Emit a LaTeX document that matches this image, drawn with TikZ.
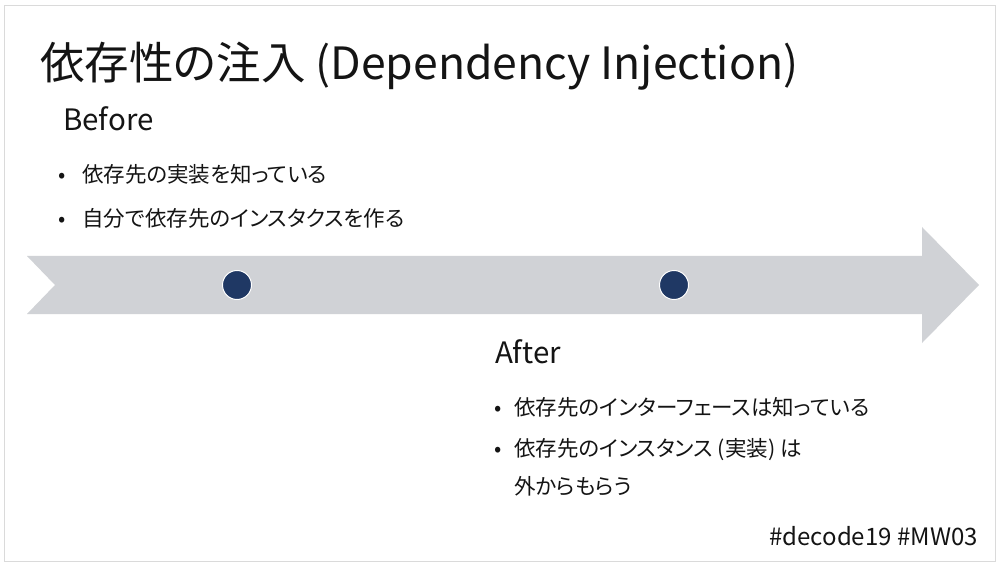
\documentclass[tikz,border=0pt]{standalone}
\usepackage{fontspec}
\setmainfont[RawFeature=+palt]{Noto Sans CJK JP}
\usetikzlibrary{positioning}
\definecolor{arrowgray}{HTML}{D0D2D6}
\definecolor{dotblue}{HTML}{1F3864}
\definecolor{framegray}{HTML}{DADADA}
\definecolor{inkgray}{HTML}{141414}

\begin{document}
\begin{tikzpicture}[
  x=1pt, y=-1pt,
  every node/.style={text=inkgray, inner sep=0pt},
  titletext/.style={anchor=base west, font=\fontsize{44.5}{52}\selectfont},
  heading/.style={anchor=base west, font=\fontsize{29.5}{36}\selectfont},
  item/.style={anchor=base west, font=\fontsize{21.5}{38}\selectfont, align=left},
  bulletmark/.style={anchor=base, font=\fontsize{21.5}{26}\selectfont},
  milestone/.style={circle, fill=dotblue, draw=white, line width=1pt, minimum size=29pt},
  tag/.style={anchor=base east, font=\fontsize{24}{28}\selectfont},
]
\useasboundingbox (0,0) rectangle (999,564);
\fill[white] (0,0) rectangle (999,564);
\draw[framegray, line width=1pt] (4.5,6) rectangle (995,561);

% timeline arrow
\fill[arrowgray] (27,256) -- (922,256) -- (922,227) -- (979,285)
  -- (922,343) -- (922,314) -- (27,314) -- (55,285) -- cycle;
\node[milestone] (before dot) at (237,285) {};
\node[milestone] (after dot) at (674,285) {};

\node[titletext] (title) at (40,80) {依存性の注入 (Dependency Injection)};

\node[heading] (before) at (63,131) {Before};
\node[item] (before one) at (82,183) {依存先の実装を知っている};
\node[item] (before two) at (82,227) {自分で依存先のインスタクスを作る};
\node[bulletmark] at (62,183) {•};
\node[bulletmark] at (62,227) {•};

\node[heading] (after) at (495,363) {After};
\node[item] (after one) at (514,415) {依存先のインターフェースは知っている};
\node[item] (after two) at (514,494) {依存先のインスタンス (実装) は\\外からもらう};
\node[bulletmark] at (498,415) {•};
\node[bulletmark] at (498,456) {•};

\node[tag] (hashtag) at (978,545) {\#decode19 \#MW03};
\end{tikzpicture}
\end{document}
